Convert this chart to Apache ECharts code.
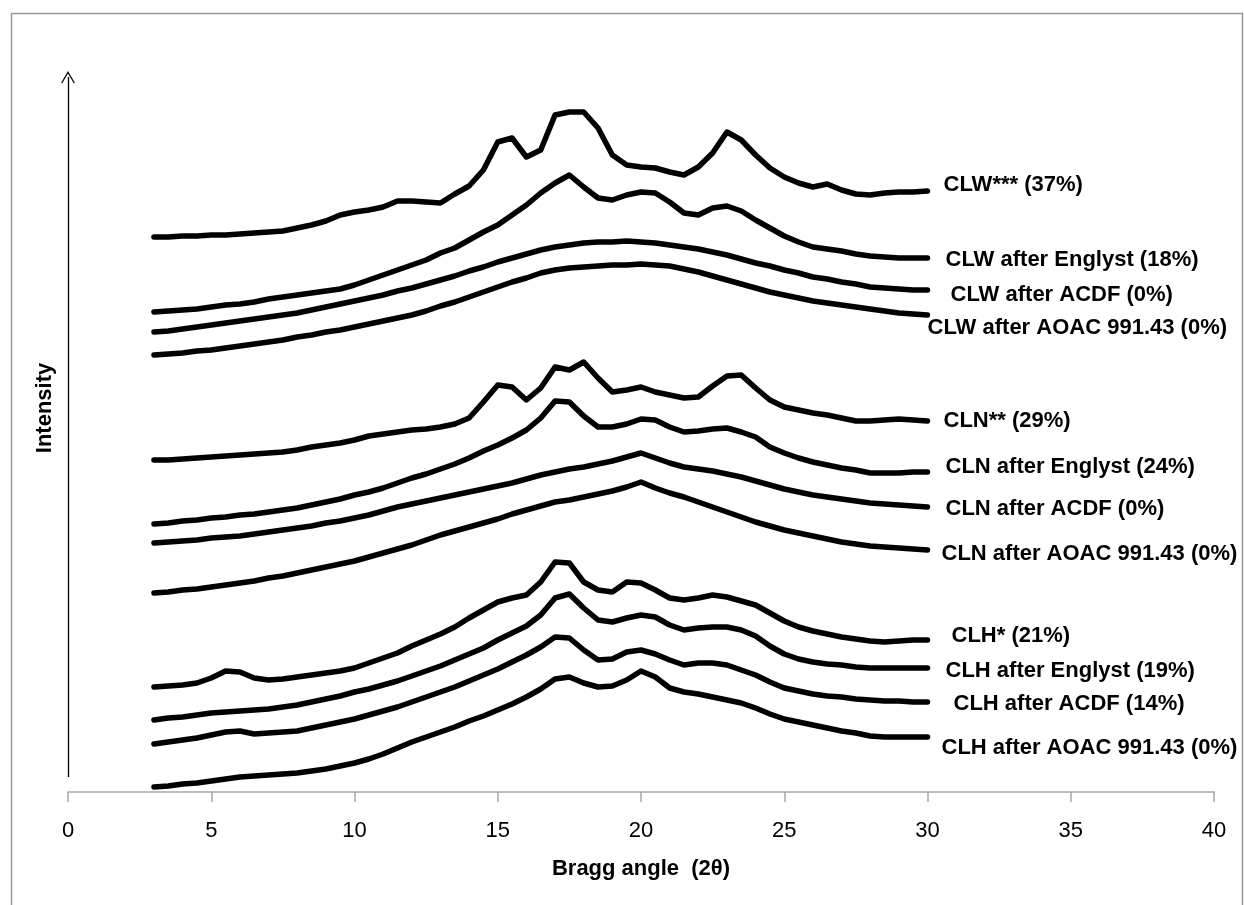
<!DOCTYPE html>
<html>
<head>
<meta charset="utf-8">
<script src="https://cdn.jsdelivr.net/npm/echarts@6/dist/echarts.min.js"></script>
<style>
  html, body { margin: 0; padding: 0; background: #fff; }
  #chart { width: 1244px; height: 905px; }
</style>
</head>
<body>
<div id="chart"></div>
<script>
// XRD patterns (Bragg angle 2θ vs intensity, arbitrary units, stacked offsets)

const angle = [3, 3.5, 4, 4.5, 5, 5.5, 6, 6.5, 7, 7.5, 8, 8.5, 9, 9.5, 10, 10.5, 11, 11.5, 12, 12.5,
  13, 13.5, 14, 14.5, 15, 15.5, 16, 16.5, 17, 17.5, 18, 18.5, 19, 19.5, 20, 20.5, 21, 21.5, 22, 22.5,
  23, 23.5, 24, 24.5, 25, 25.5, 26, 26.5, 27, 27.5, 28, 28.5, 29, 29.5, 30];

const clwRaw = [555, 555, 556, 556, 557, 557, 558, 559, 560, 561, 564, 567, 571, 577, 580, 582, 585, 591, 591, 590,
  589, 598, 606, 622, 650, 654, 635, 642, 677, 680, 680, 664, 637, 627, 625, 624, 620, 617, 625, 639,
  660, 652, 637, 624, 615, 609, 605, 608, 602, 598, 597, 599, 600, 600, 601];
const clwEnglyst = [480, 481, 482, 483, 485, 487, 488, 490, 493, 495, 497, 499, 501, 503, 507, 512, 517, 522, 527, 532,
  539, 544, 552, 560, 567, 577, 587, 599, 609, 617, 605, 594, 592, 597, 600, 599, 590, 579, 577, 584,
  586, 581, 572, 564, 556, 550, 545, 543, 541, 538, 536, 535, 534, 534, 534];
const clwAcdf = [460, 461, 463, 465, 467, 469, 471, 473, 475, 477, 479, 482, 485, 488, 491, 494, 497, 501, 504, 508,
  512, 516, 521, 525, 530, 534, 538, 542, 545, 547, 549, 550, 550, 551, 550, 549, 547, 545, 543, 540,
  537, 533, 529, 526, 522, 519, 515, 513, 510, 508, 505, 504, 503, 502, 502];
const clwAoac = [437, 438, 439, 441, 442, 444, 446, 448, 450, 452, 455, 457, 460, 462, 465, 468, 471, 474, 477, 481,
  486, 490, 495, 500, 505, 510, 514, 519, 522, 524, 525, 526, 527, 527, 528, 527, 526, 523, 520, 516,
  512, 508, 504, 500, 497, 494, 491, 489, 487, 485, 483, 481, 479, 478, 477];

const clnRaw = [332, 332, 333, 334, 335, 336, 337, 338, 339, 340, 342, 345, 347, 349, 352, 356, 358, 360, 362, 363,
  365, 368, 374, 390, 407, 405, 392, 404, 425, 422, 430, 414, 400, 402, 405, 400, 397, 394, 395, 406,
  416, 417, 404, 392, 385, 382, 379, 377, 374, 371, 371, 372, 373, 372, 371];
const clnEnglyst = [268, 269, 271, 272, 274, 275, 277, 278, 280, 282, 284, 287, 290, 293, 297, 300, 304, 309, 314, 318,
  323, 328, 334, 341, 347, 354, 362, 374, 391, 390, 376, 365, 365, 368, 373, 372, 365, 360, 361, 363,
  364, 360, 355, 345, 339, 334, 330, 327, 324, 322, 319, 319, 319, 320, 320];
const clnAcdf = [249, 250, 251, 252, 254, 255, 256, 258, 260, 262, 264, 266, 269, 271, 274, 277, 281, 285, 288, 291,
  294, 297, 300, 303, 306, 309, 313, 317, 320, 323, 325, 328, 331, 335, 339, 334, 329, 325, 323, 321,
  318, 315, 311, 307, 303, 300, 297, 295, 293, 291, 289, 288, 287, 286, 285];
const clnAoac = [199, 200, 202, 203, 205, 207, 209, 211, 214, 216, 219, 222, 225, 228, 231, 235, 239, 243, 247, 252,
  257, 261, 265, 269, 273, 278, 282, 286, 290, 292, 295, 298, 301, 305, 310, 304, 299, 295, 290, 285,
  280, 275, 270, 266, 262, 259, 256, 253, 250, 248, 246, 245, 244, 243, 242];

const clhRaw = [105, 106, 107, 109, 114, 121, 120, 114, 112, 113, 115, 117, 119, 121, 124, 129, 134, 139, 146, 152,
  158, 165, 174, 182, 190, 194, 197, 210, 230, 229, 210, 202, 200, 210, 209, 202, 194, 192, 194, 197,
  195, 191, 187, 179, 171, 165, 161, 158, 155, 153, 151, 150, 151, 152, 152];
const clhEnglyst = [72, 74, 75, 77, 79, 80, 81, 82, 83, 85, 87, 90, 93, 96, 100, 103, 107, 111, 116, 121,
  126, 132, 138, 144, 152, 159, 166, 177, 194, 198, 184, 172, 170, 174, 177, 175, 167, 162, 164, 165,
  165, 162, 156, 146, 138, 133, 130, 128, 127, 125, 124, 124, 124, 124, 124];
const clhAcdf = [48, 50, 52, 54, 57, 60, 61, 58, 59, 60, 61, 64, 67, 70, 73, 77, 81, 85, 90, 95,
  100, 105, 111, 117, 123, 130, 137, 145, 155, 154, 142, 132, 133, 140, 142, 138, 132, 127, 129, 129,
  127, 122, 117, 110, 104, 101, 98, 96, 95, 93, 92, 91, 91, 90, 90];
const clhAoac = [5, 6, 8, 9, 11, 13, 15, 16, 17, 18, 19, 21, 23, 26, 29, 33, 38, 44, 50, 55,
  60, 65, 71, 76, 82, 88, 95, 103, 113, 115, 109, 105, 106, 112, 121, 115, 104, 100, 98, 95,
  92, 89, 84, 78, 73, 70, 67, 64, 61, 59, 56, 55, 55, 55, 55];

const seriesNames = [
  'CLW*** (37%)', 'CLW after Englyst (18%)', 'CLW after ACDF (0%)', 'CLW after AOAC 991.43 (0%)',
  'CLN** (29%)', 'CLN after Englyst (24%)', 'CLN after ACDF (0%)', 'CLN after AOAC 991.43 (0%)',
  'CLH* (21%)', 'CLH after Englyst (19%)', 'CLH after ACDF (14%)', 'CLH after AOAC 991.43 (0%)'
];
const seriesData = [clwRaw, clwEnglyst, clwAcdf, clwAoac, clnRaw, clnEnglyst, clnAcdf, clnAoac,
  clhRaw, clhEnglyst, clhAcdf, clhAoac];

// 末端标签相对曲线终点的偏移（像素）
const labelOffsets = [[16, -6], [18, 2], [23, 5], [0, 13], [16, 0], [18, -5], [18, 2], [14, 4],
  [24, -4], [18, 3], [26, 2], [14, 11]];

const xTicks = { min: 0, max: 40, interval: 5 };
const arrowFrom = [0, 15];
const arrowTo = [0, 715];

const FONT = "'Liberation Sans', Arial, sans-serif";

const chart = echarts.init(document.getElementById('chart'), null, { renderer: 'canvas' });

const series = seriesData.map((vals, i) => ({
  name: seriesNames[i],
  type: 'line',
  data: angle.map((a, j) => [a, vals[j]]),
  showSymbol: false,
  smooth: false,
  clip: false,
  lineStyle: { color: '#000', width: 5.5, join: 'round', cap: 'round' },
  endLabel: {
    show: true,
    formatter: seriesNames[i],
    distance: 0,
    offset: labelOffsets[i],
    color: '#000',
    fontFamily: FONT,
    fontWeight: 'bold',
    fontSize: 22
  },
  emphasis: { disabled: true },
  z: 3
}));

// 强度方向箭头
series[0].markLine = {
  silent: true,
  symbol: ['none', 'path://M0,11 L6,0 L12,11 L10.8,11 L6,2.2 L1.2,11 Z'],
  symbolSize: [14, 12],
  label: { show: false },
  lineStyle: { color: '#000', width: 1.3, type: 'solid' },
  data: [[{ coord: arrowFrom }, { coord: arrowTo }]]
};

chart.setOption({
  backgroundColor: '#fff',
  animation: false,
  grid: { left: 68, right: 30, top: 77, bottom: 113, containLabel: false },
  xAxis: {
    type: 'value',
    min: xTicks.min, max: xTicks.max, interval: xTicks.interval,
    name: 'Bragg angle  (2θ)',
    nameLocation: 'middle',
    nameGap: 66,
    nameTextStyle: { color: '#000', fontFamily: FONT, fontWeight: 'bold', fontSize: 22 },
    axisLine: { show: true, onZero: false, lineStyle: { color: '#a6a6a6', width: 1.5 } },
    axisTick: { show: true, inside: false, length: 10, lineStyle: { color: '#a6a6a6', width: 1.5 } },
    axisLabel: { color: '#000', fontFamily: FONT, fontSize: 22, margin: 28 },
    splitLine: { show: false }
  },
  yAxis: {
    type: 'value',
    min: 0, max: 715,
    axisLine: { show: false },
    axisTick: { show: false },
    axisLabel: { show: false },
    splitLine: { show: false }
  },
  graphic: [
    {
      type: 'rect', left: 9, top: 11, silent: true,
      shape: { width: 1231, height: 1000 },
      style: { fill: 'none', stroke: '#999', lineWidth: 1.5 }
    },
    {
      type: 'text', x: 45, y: 408, rotation: Math.PI / 2, silent: true,
      style: {
        text: 'Intensity', fill: '#000', font: 'bold 22px ' + FONT,
        align: 'center', verticalAlign: 'middle'
      }
    }
  ],
  series: series
});
</script>
</body>
</html>
